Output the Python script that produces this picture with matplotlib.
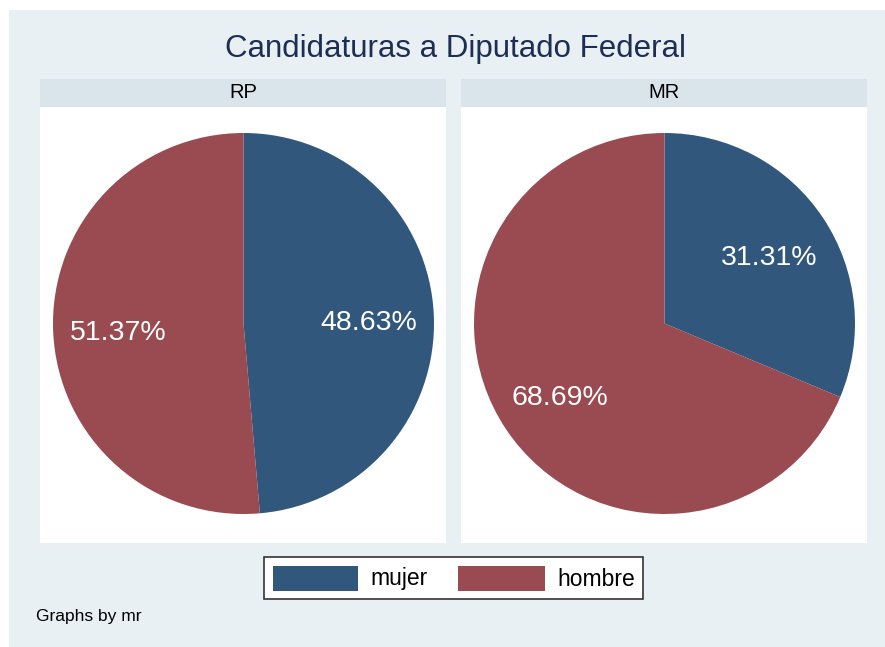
import matplotlib
matplotlib.use('Agg')
import matplotlib.pyplot as plt
from matplotlib.patches import Rectangle

plt.rcParams['font.family'] = ['Liberation Sans', 'DejaVu Sans']

# Datos
titulo = 'Candidaturas a Diputado Federal'
paneles = ['RP', 'MR']
categorias = ['mujer', 'hombre']
pct_rp = [48.63, 51.37]
pct_mr = [31.31, 68.69]
valores = [pct_rp, pct_mr]

colores = ['#31587c', '#9a4a51']
fondo = '#e8f0f3'
cabecera = '#d9e5eb'

W, H = 885, 647
fig = plt.figure(figsize=(W / 100, H / 100), dpi=100)
fig.patch.set_facecolor('white')

def caja(x0, y0, x1, y1):
    # pixeles (desde arriba) -> coordenadas de figura
    return [x0 / W, 1 - y1 / H, (x1 - x0) / W, (y1 - y0) / H]

def rect(x0, y0, x1, y1, **kw):
    r = caja(x0, y0, x1, y1)
    fig.patches.append(Rectangle((r[0], r[1]), r[2], r[3],
                                 transform=fig.transFigure, **kw))

# fondo general
rect(9, 10, 885, 647, facecolor=fondo, edgecolor='none', zorder=0)

fig.text(455 / W, 1 - 49 / H, titulo, ha='center', va='center',
         fontsize=22.5, color='#1e2d53')

x_paneles = [(40, 446), (461, 867)]
for (x0, x1), nombre, vals in zip(x_paneles, paneles, valores):
    rect(x0, 79, x1, 107, facecolor=cabecera, edgecolor='none', zorder=1)
    fig.text((x0 + x1) / 2 / W, 1 - 93 / H, nombre, ha='center', va='center',
             fontsize=14.5, color='black')
    rect(x0, 107, x1, 543, facecolor='white', edgecolor='none', zorder=1)
    # pastel
    cx = (x0 + x1) / 2 + 0.5
    cy, rad = 323.5, 190.5
    ax = fig.add_axes(caja(cx - rad, cy - rad, cx + rad, cy + rad), zorder=5)
    _, _, etiquetas = ax.pie(vals, colors=colores, startangle=90, counterclock=False,
                             autopct='%.2f%%', pctdistance=0.66,
                             textprops={'color': 'white', 'fontsize': 20.5},
                             wedgeprops={'linewidth': 0})
    for t in etiquetas:
        x, y = t.get_position()
        t.set_position((x, y - 4.5 / rad))
    ax.set_xlim(-1, 1)
    ax.set_ylim(-1, 1)
    ax.set_aspect('equal')
    ax.axis('off')

# leyenda
rect(264, 557, 643, 599, facecolor='white', edgecolor='#333333', linewidth=1.2, zorder=1)
x_muestras = [(273, 358), (458, 545)]
x_textos = [370, 557]
for (a, b), xt, cat, col in zip(x_muestras, x_textos, categorias, colores):
    rect(a, 566, b, 591, facecolor=col, edgecolor='none', zorder=2)
    fig.text(xt / W, 1 - 579 / H, cat, ha='left', va='center', fontsize=16.5, color='black')

fig.text(36 / W, 1 - 617 / H, 'Graphs by mr', ha='left', va='center',
         fontsize=12.5, color='black')

fig.savefig('out.png', dpi=100)
